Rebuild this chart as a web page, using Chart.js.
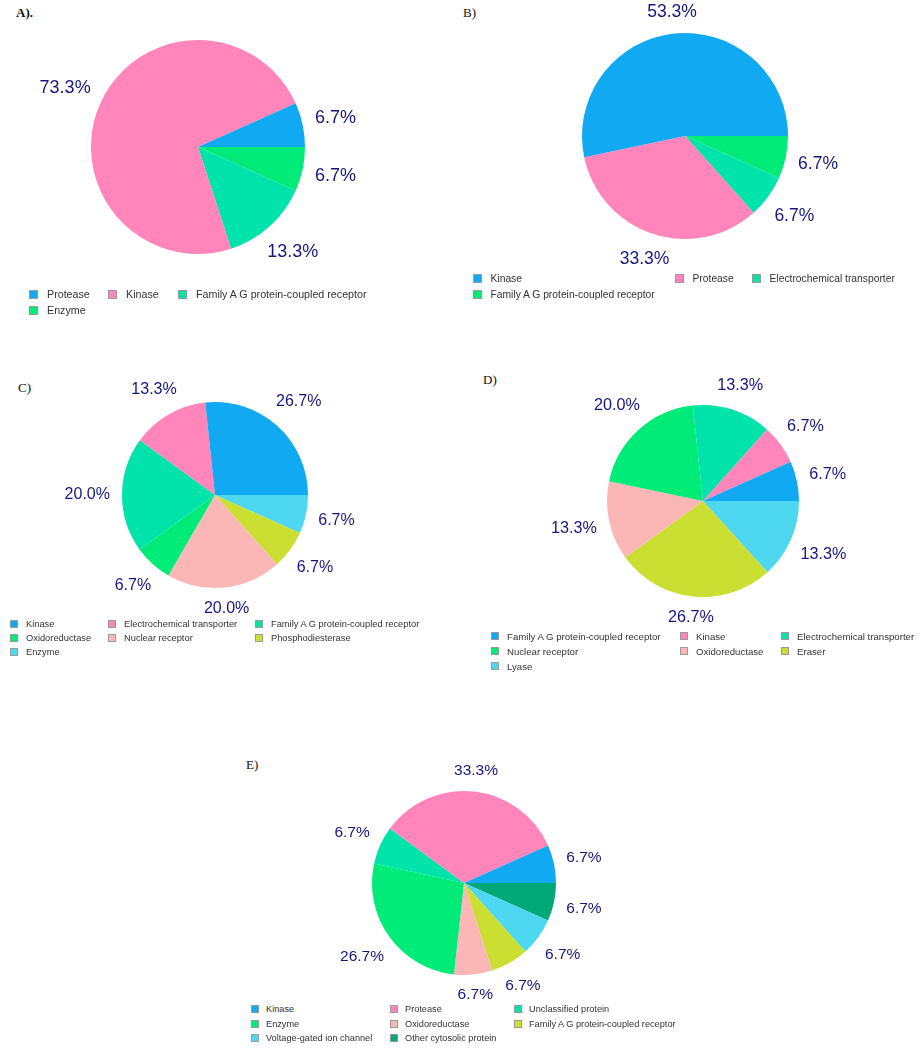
<!DOCTYPE html>
<html>
<head>
<meta charset="utf-8">
<script src="https://cdn.jsdelivr.net/npm/chart.js@4.4.1/dist/chart.umd.min.js"></script>
<style>
  body { margin: 0; background: #fff; width: 923px; height: 1050px; position: relative; overflow: hidden;
         font-family: "Liberation Sans", Arial, sans-serif; }
  canvas { position: absolute; }
  .title { position: absolute; font-family: "Liberation Serif", "Times New Roman", serif; font-size: 13px;
           line-height: 14px; color: #111; }
  .item { position: absolute; display: flex; align-items: center; white-space: nowrap; color: #333; height: 14px; }
  .box { display: inline-block; box-sizing: border-box; border: 1px solid #9a9a9a; flex: none; }
</style>
</head>
<body>
<script>
// palette, same order in every panel's legend
var colors = ["#11a9f2", "#ff85bb", "#00e3aa", "#00eb78", "#fbb6b6", "#cadf31", "#4dd7f0", "#00a977"];

var labelsA = ["Protease", "Kinase", "Family A G protein-coupled receptor", "Enzyme"];
var valuesA = [6.7, 73.3, 13.3, 6.7];

var labelsB = ["Kinase", "Protease", "Electrochemical transporter", "Family A G protein-coupled receptor"];
var valuesB = [53.3, 33.3, 6.7, 6.7];

var labelsC = ["Kinase", "Electrochemical transporter", "Family A G protein-coupled receptor",
  "Oxidoreductase", "Nuclear receptor", "Phosphodiesterase", "Enzyme"];
var valuesC = [26.7, 13.3, 20.0, 6.7, 20.0, 6.7, 6.7];

var labelsD = ["Family A G protein-coupled receptor", "Kinase", "Electrochemical transporter",
  "Nuclear receptor", "Oxidoreductase", "Eraser", "Lyase"];
var valuesD = [6.7, 6.7, 13.3, 20.0, 13.3, 26.7, 13.3];

var labelsE = ["Kinase", "Protease", "Unclassified protein", "Enzyme", "Oxidoreductase",
  "Family A G protein-coupled receptor", "Voltage-gated ion channel", "Other cytosolic protein"];
var valuesE = [6.7, 33.3, 6.7, 26.7, 6.7, 6.7, 6.7, 6.7];

var panels = [
  { title: "A).", bold: true, labels: labelsA, values: valuesA, cx: 198, cy: 147, r: 107, size: 18,
    tx: 16, ty: 13, lfont: 10.7, boxSize: 9, cols: [29, 108, 178], gap: 18, rowY: 294, rowStep: 16 },
  { title: "B)", labels: labelsB, values: valuesB, cx: 685, cy: 136, r: 103, size: 17.5,
    tx: 463, ty: 13, lfont: 10.3, boxSize: 9, cols: [473, 675, 752], gap: 17.5, rowY: 278, rowStep: 16 },
  { title: "C)", labels: labelsC, values: valuesC, cx: 215, cy: 495, r: 93, size: 16,
    tx: 18, ty: 388, lfont: 9.3, boxSize: 8, cols: [10, 108, 255], gap: 16, rowY: 624, rowStep: 14 },
  { title: "D)", labels: labelsD, values: valuesD, cx: 703, cy: 501, r: 96, size: 16.2,
    tx: 483, ty: 380, lfont: 9.65, boxSize: 8, cols: [491, 680, 781], gap: 16, rowY: 636, rowStep: 15 },
  { title: "E)", labels: labelsE, values: valuesE, cx: 464, cy: 883, r: 92, size: 15.5,
    tx: 246, ty: 765, lfont: 9.2, boxSize: 8, cols: [251, 390, 514], gap: 15, rowY: 1009, rowStep: 14.5 }
];

// percentage labels outside each slice
var pctLabels = {
  id: "pctLabels",
  afterDatasetsDraw: function (chart, args, opts) {
    var ctx = chart.ctx;
    var meta = chart.getDatasetMeta(0);
    ctx.save();
    ctx.font = opts.size + "px 'Liberation Sans', Arial, sans-serif";
    ctx.fillStyle = "#16167f";
    ctx.textAlign = "center";
    ctx.textBaseline = "middle";
    meta.data.forEach(function (arc, i) {
      var p = arc.getProps(["x", "y", "startAngle", "endAngle", "outerRadius"], true);
      var mid = (p.startAngle + p.endAngle) / 2;
      var text = chart.data.datasets[0].data[i].toFixed(1) + "%";
      var hw = ctx.measureText(text).width / 2;
      var hh = opts.size * 0.42;
      var d = p.outerRadius + 12 + Math.abs(Math.cos(mid)) * hw + Math.abs(Math.sin(mid)) * hh;
      ctx.fillText(text, p.x + Math.cos(mid) * d, p.y + Math.sin(mid) * d);
    });
    ctx.restore();
  }
};

var pad = 75;

panels.forEach(function (pn) {
  var t = document.createElement("div");
  t.className = "title";
  t.textContent = pn.title;
  t.style.left = pn.tx + "px";
  t.style.top = (pn.ty - 7) + "px";
  if (pn.bold) t.style.fontWeight = "bold";
  document.body.appendChild(t);

  var canvas = document.createElement("canvas");
  var side = 2 * (pn.r + pad);
  canvas.width = side;
  canvas.height = side;
  canvas.style.left = (pn.cx - pn.r - pad) + "px";
  canvas.style.top = (pn.cy - pn.r - pad) + "px";
  document.body.appendChild(canvas);

  var cols = pn.labels.map(function (l, i) { return colors[i]; });

  // slices run counter-clockwise from 3 o'clock, so feed them reversed to the clockwise pie
  new Chart(canvas.getContext("2d"), {
    type: "pie",
    data: {
      labels: pn.labels.slice().reverse(),
      datasets: [{
        data: pn.values.slice().reverse(),
        backgroundColor: cols.slice().reverse(),
        borderWidth: 0,
        hoverOffset: 0,
        offset: 0
      }]
    },
    options: {
      responsive: false,
      animation: false,
      rotation: 90,
      layout: { padding: pad },
      plugins: {
        legend: { display: false },
        tooltip: { enabled: false },
        pctLabels: { size: pn.size }
      }
    },
    plugins: [pctLabels]
  });

  // legend, three columns, row by row
  pn.labels.forEach(function (lab, i) {
    var col = i % 3, row = Math.floor(i / 3);
    var item = document.createElement("div");
    item.className = "item";
    item.style.left = pn.cols[col] + "px";
    item.style.top = (pn.rowY + row * pn.rowStep - 7) + "px";
    item.style.fontSize = pn.lfont + "px";
    var box = document.createElement("span");
    box.className = "box";
    box.style.width = pn.boxSize + "px";
    box.style.height = pn.boxSize + "px";
    box.style.background = colors[i];
    box.style.marginRight = (pn.gap - pn.boxSize) + "px";
    item.appendChild(box);
    item.appendChild(document.createTextNode(lab));
    document.body.appendChild(item);
  });
});
</script>
</body>
</html>
